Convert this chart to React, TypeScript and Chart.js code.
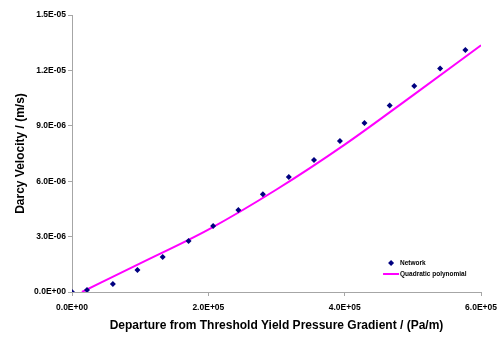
import React, { useEffect, useRef } from "react";
import { Chart, registerables } from "chart.js";

Chart.register(...registerables);

const networkX = [0, 2.2e4, 6.0e4, 9.6e4, 1.33e5, 1.71e5, 2.07e5, 2.44e5, 2.8e5, 3.18e5, 3.55e5, 3.93e5, 4.29e5, 4.66e5, 5.02e5, 5.4e5, 5.77e5];
const networkY = [0, 1.1e-7, 4.3e-7, 1.19e-6, 1.9e-6, 2.76e-6, 3.57e-6, 4.44e-6, 5.3e-6, 6.23e-6, 7.15e-6, 8.18e-6, 9.15e-6, 1.01e-5, 1.115e-5, 1.21e-5, 1.31e-5];

const fitX = [1.46e4, 1e5, 2e5, 3e5, 4e5, 5e5, 6e5];
const fitY = [0, 1.55e-6, 3.38e-6, 5.55e-6, 7.98e-6, 1.065e-5, 1.336e-5];

const xTicks = [0, 2e5, 4e5, 6e5];
const yTicks = [0, 3e-6, 6e-6, 9e-6, 1.2e-5, 1.5e-5];

const seriesNames = ["Network", "Quadratic polynomial"];
const xTitle = "Departure from Threshold Yield Pressure Gradient / (Pa/m)";
const yTitle = "Darcy Velocity / (m/s)";

const FONT = "'Liberation Sans', Arial, sans-serif";
const AXIS = "#a6a6a6";
const NAVY = "#000080";
const MAGENTA = "#ff00ff";

function fmt(v: number): string {
  const s = v.toExponential(1).toUpperCase();
  const m = s.match(/^([\d.\-]+)E([+-])(\d+)$/);
  if (!m) return s;
  return `${m[1]}E${m[2]}${m[3].padStart(2, "0")}`;
}

const legendPlugin = {
  id: "insideLegend",
  afterDraw(chart: any) {
    const ctx = chart.ctx;
    const area = chart.chartArea;
    ctx.save();
    ctx.font = `bold 6.5px ${FONT}`;
    ctx.textBaseline = "middle";
    const x0 = area.right - 98;
    const y0 = area.bottom - 29;
    ctx.fillStyle = NAVY;
    ctx.beginPath();
    const r = 3;
    ctx.moveTo(x0 + 8, y0 - r);
    ctx.lineTo(x0 + 8 + r, y0);
    ctx.lineTo(x0 + 8, y0 + r);
    ctx.lineTo(x0 + 8 - r, y0);
    ctx.closePath();
    ctx.fill();
    ctx.fillStyle = "#000";
    ctx.fillText(seriesNames[0], x0 + 17, y0);
    ctx.strokeStyle = MAGENTA;
    ctx.lineWidth = 2;
    ctx.beginPath();
    ctx.moveTo(x0, y0 + 11);
    ctx.lineTo(x0 + 16, y0 + 11);
    ctx.stroke();
    ctx.fillText(seriesNames[1], x0 + 17, y0 + 11);
    ctx.restore();
  },
};

export default function App() {
  const ref = useRef<HTMLCanvasElement>(null);
  useEffect(() => {
    document.body.style.margin = "0";
    const chart = new Chart(ref.current!, {
      type: "scatter",
      data: {
        datasets: [
          {
            label: seriesNames[0],
            data: networkX.map((x, i) => ({ x, y: networkY[i] })),
            pointStyle: "rectRot",
            pointRadius: 3,
            backgroundColor: NAVY,
            borderColor: NAVY,
            borderWidth: 0,
            showLine: false,
            order: 0,
          },
          {
            label: seriesNames[1],
            data: fitX.map((x, i) => ({ x, y: fitY[i] })),
            showLine: true,
            pointRadius: 0,
            borderColor: MAGENTA,
            borderWidth: 2,
            cubicInterpolationMode: "monotone",
            order: 1,
          } as any,
        ],
      },
      options: {
        animation: false,
        responsive: false,
        layout: { padding: { top: 15, right: 22, bottom: 10, left: 12 } },
        plugins: { legend: { display: false }, tooltip: { enabled: false } },
        scales: {
          x: {
            type: "linear",
            min: 0,
            max: 6e5,
            afterBuildTicks: (s: any) => {
              s.ticks = xTicks.map((v) => ({ value: v }));
            },
            afterFit: (s: any) => {
              s.height = 43;
            },
            ticks: {
              callback: (v: any) => fmt(Number(v)),
              font: { family: FONT, size: 8.5, weight: "bold" },
              color: "#000",
              padding: 7,
              maxRotation: 0,
            },
            grid: { display: true, drawOnChartArea: false, drawTicks: true, tickLength: 4, color: AXIS },
            border: { color: AXIS, width: 1 },
            title: {
              display: true,
              text: xTitle,
              font: { family: FONT, size: 12, weight: "bold" },
              color: "#000",
              padding: { top: 4, bottom: 2 },
            },
          },
          y: {
            type: "linear",
            min: 0,
            max: 1.5e-5,
            afterBuildTicks: (s: any) => {
              s.ticks = yTicks.map((v) => ({ value: v }));
            },
            afterFit: (s: any) => {
              s.width = 60;
            },
            ticks: {
              callback: (v: any) => fmt(Number(v)),
              font: { family: FONT, size: 8.5, weight: "bold" },
              color: "#000",
              padding: 2,
            },
            grid: { display: true, drawOnChartArea: false, drawTicks: true, tickLength: 4, color: AXIS },
            border: { color: AXIS, width: 1 },
            title: {
              display: true,
              text: yTitle,
              font: { family: FONT, size: 12, weight: "bold" },
              color: "#000",
              padding: { top: 1, bottom: 0 },
            },
          },
        },
      },
      plugins: [legendPlugin],
    });
    return () => chart.destroy();
  }, []);
  return (
    <div style={{ position: "fixed", left: 0, top: 0, width: 504, height: 345, background: "#fff" }}>
      <canvas ref={ref} width={504} height={345} style={{ width: 504, height: 345 }} />
    </div>
  );
}
